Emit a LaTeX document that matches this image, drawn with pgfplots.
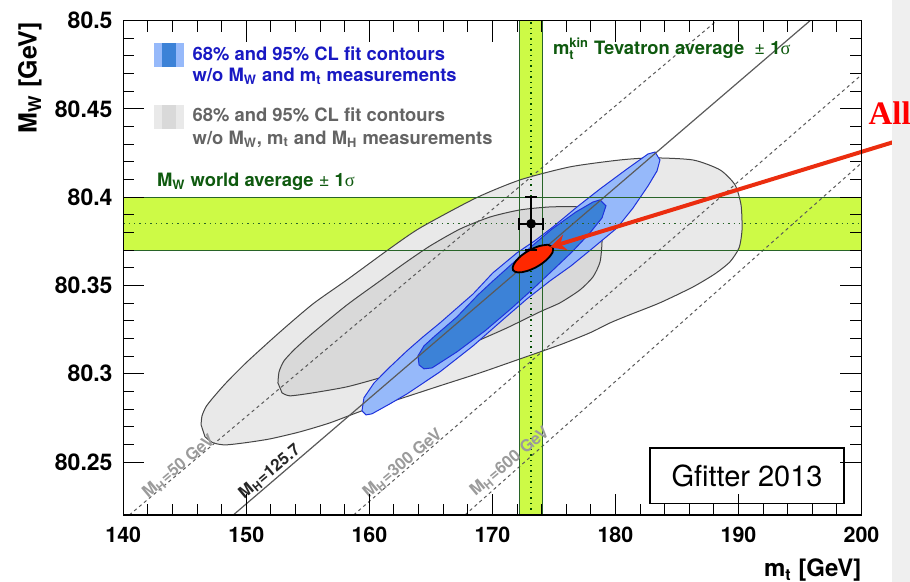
\documentclass[border=0pt]{standalone}
\usepackage{fontspec}
\setmainfont{TeX Gyre Heros}
\newfontfamily\serifff{Liberation Serif}
\usepackage{amsmath}
\usepackage{pgfplots}
\pgfplotsset{compat=1.18}
\usetikzlibrary{arrows.meta}
\definecolor{bandgreen}{RGB}{205,250,70}
\definecolor{bandline}{RGB}{40,100,40}
\definecolor{txtgreen}{RGB}{15,90,15}
\definecolor{txtblue}{RGB}{25,25,195}
\definecolor{txtgray}{RGB}{100,100,100}
\definecolor{lblue}{RGB}{150,185,250}
\definecolor{dblue}{RGB}{60,130,215}
\definecolor{bline}{RGB}{30,50,220}
\definecolor{gout}{RGB}{233,233,233}
\definecolor{gin}{RGB}{217,217,217}
\definecolor{gline}{RGB}{70,70,70}
\definecolor{mhline}{RGB}{90,90,90}
\definecolor{mhtext}{RGB}{155,155,155}
\definecolor{ellred}{RGB}{255,40,0}
\definecolor{arrred}{RGB}{235,45,15}
\definecolor{panel}{RGB}{239,239,239}
\definecolor{alltxt}{RGB}{255,0,0}
\begin{document}
\begin{tikzpicture}
\begin{axis}[
  scale only axis, width=369.1pt, height=247.15pt,
  xmin=140, xmax=200, ymin=80.22, ymax=80.5,
  axis on top, clip=false, scaled ticks=false,
  xtick={140,150,160,170,180,190,200},
  xticklabels={140,150,160,170,180,190,200},
  ytick={80.25,80.3,80.35,80.4,80.45,80.5},
  yticklabels={80.25,80.3,80.35,80.4,80.45,80.5},
  minor x tick num=4, minor y tick num=4,
  tick align=inside, tick pos=both, xticklabel pos=lower, yticklabel pos=left,
  major tick length=10.5pt, minor tick length=5.6pt,
  every tick/.style={black, line width=0.5pt},
  axis line style={line width=0.7pt},
  xticklabel style={font=\fontsize{10.7}{12}\selectfont\bfseries, inner sep=0pt, anchor=north, yshift=-6pt},
  yticklabel style={font=\fontsize{11.5}{13}\selectfont\bfseries, inner sep=0pt, anchor=east, xshift=-5.2pt},
  /pgf/number format/assume math mode=true,
]
% bands
\addplot[draw=none, fill=bandgreen] coordinates {(140,80.37) (200,80.37) (200,80.40) (140,80.40)} --cycle;
\addplot[draw=none, fill=bandgreen] coordinates {(172.2,80.22) (174.1,80.22) (174.1,80.5) (172.2,80.5)} --cycle;
% gray contours
\addplot[fill=gout, draw=gline, line width=0.5pt, smooth, tension=0.4] coordinates {
(146.32,80.2711) (146.40,80.2762) (146.72,80.2813) (147.29,80.2864) (148.35,80.2948) (150.05,80.3067) (152.74,80.3237) (155.42,80.3396) (158.18,80.3532) (161.52,80.3702) (164.12,80.3826) (168.67,80.3996) (172.24,80.4098) (176.31,80.4172) (180.37,80.4211) (183.06,80.4223) (186.31,80.4211) (188.50,80.4155) (189.72,80.4070) (190.21,80.3956) (190.29,80.3815) (190.05,80.3713) (189.31,80.3634) (188.09,80.3566) (186.31,80.3492) (183.62,80.3402) (180.94,80.3328) (179.56,80.3288) (177.93,80.3232) (175.50,80.3164) (172.24,80.3084) (168.99,80.3005) (165.74,80.2932) (162.49,80.2858) (159.40,80.2790) (156.80,80.2722) (154.36,80.2671) (151.92,80.2631) (149.89,80.2609) (148.27,80.2597) (147.29,80.2609) (146.64,80.2643)} --cycle;
\addplot[fill=gin, draw=gline, line width=0.5pt, smooth, tension=0.4] coordinates {
(152.57,80.2948) (152.66,80.3011) (153.06,80.3073) (153.96,80.3141) (155.42,80.3232) (158.18,80.3390) (160.87,80.3526) (162.90,80.3628) (164.93,80.3724) (167.37,80.3820) (169.81,80.3888) (172.24,80.3928) (174.68,80.3945) (177.12,80.3945) (178.34,80.3922) (178.83,80.3849) (178.91,80.3747) (178.75,80.3634) (178.18,80.3549) (177.12,80.3475) (175.50,80.3402) (173.87,80.3351) (171.19,80.3260) (168.43,80.3175) (165.74,80.3096) (163.06,80.3022) (160.87,80.2977) (158.18,80.2926) (155.42,80.2892) (153.55,80.2875) (152.90,80.2892)} --cycle;
% blue contours
\addplot[fill=lblue, draw=bline, line width=0.5pt] coordinates {
(159.40,80.2790) (159.73,80.2767) (160.21,80.2773) (161.68,80.2830) (163.06,80.2886) (165.74,80.3011) (168.43,80.3158) (171.03,80.3317) (172.81,80.3424) (174.68,80.3526) (176.39,80.3611) (178.18,80.3713) (180.13,80.3826) (181.43,80.3939) (182.65,80.4064) (183.38,80.4149) (183.62,80.4211) (183.22,80.4256) (182.65,80.4245) (180.94,80.4160) (178.75,80.4047) (176.88,80.3945) (174.93,80.3832) (173.44,80.3753) (172.00,80.3685) (170.03,80.3571) (168.43,80.3452) (165.74,80.3288) (164.36,80.3209) (163.06,80.3130) (161.68,80.3039) (160.38,80.2948) (159.56,80.2864)} --cycle;
\addplot[fill=dblue, draw=bline, line width=0.5pt] coordinates {
(163.95,80.3101) (164.04,80.3050) (164.44,80.3028) (165.09,80.3033) (167.12,80.3124) (169.40,80.3243) (171.59,80.3373) (173.30,80.3481) (174.93,80.3588) (176.47,80.3690) (177.93,80.3798) (178.91,80.3883) (179.23,80.3951) (178.75,80.3985) (178.18,80.3973) (176.80,80.3917) (174.85,80.3820) (173.22,80.3724) (171.59,80.3622) (170.05,80.3526) (168.83,80.3447) (167.12,80.3322) (165.34,80.3215) (164.44,80.3158)} --cycle;
% MH lines
\addplot[mhline, line width=0.5pt, dash pattern=on 1.6pt off 1.6pt] coordinates {(140.49,80.22) (188.23,80.5)};
\addplot[mhline, line width=0.6pt] coordinates {(148.94,80.22) (195.82,80.5)};
\addplot[mhline, line width=0.5pt, dash pattern=on 1.6pt off 1.6pt] coordinates {(158.72,80.22) (200,80.4693)};
\addplot[mhline, line width=0.5pt, dash pattern=on 1.6pt off 1.6pt] coordinates {(167.77,80.22) (200,80.4194)};
% band lines
\addplot[bandline, line width=0.5pt] coordinates {(140,80.37) (200,80.37)};
\addplot[bandline, line width=0.5pt] coordinates {(140,80.40) (200,80.40)};
\addplot[bandline, line width=0.7pt, dotted] coordinates {(140,80.385) (200,80.385)};
\addplot[bandline, line width=0.5pt] coordinates {(172.2,80.22) (172.2,80.5)};
\addplot[bandline, line width=0.5pt] coordinates {(174.1,80.22) (174.1,80.5)};
\addplot[black!70!green, line width=0.7pt, dotted] coordinates {(173.15,80.22) (173.15,80.5)};
% line labels
\node[rotate=40, text=mhtext, font=\fontsize{8.3}{9}\selectfont\bfseries] at (axis cs:144.53,80.2473) {M$_\text{H}$=50 GeV};
\node[rotate=40, text=black!85, font=\fontsize{8.3}{9}\selectfont\bfseries] at (axis cs:151.92,80.2444) {M$_\text{H}$=125.7};
\node[rotate=40, text=mhtext, font=\fontsize{8.3}{9}\selectfont\bfseries] at (axis cs:162.73,80.2490) {M$_\text{H}$=300 GeV};
\node[rotate=40, text=mhtext, font=\fontsize{8.3}{9}\selectfont\bfseries] at (axis cs:171.43,80.2501) {M$_\text{H}$=600 GeV};
% measurement point with error bars and caps
\addplot[black, line width=1pt] coordinates {(172.2,80.385) (174.1,80.385)};
\addplot[black, line width=1pt] coordinates {(173.15,80.37) (173.15,80.40)};
\addplot[black, only marks, mark=-, mark size=3pt, mark options={line width=1pt}] coordinates {(173.15,80.40) (173.15,80.37)};
\addplot[black, only marks, mark=|, mark size=3pt, mark options={line width=1pt}] coordinates {(172.2,80.385) (174.1,80.385)};
\addplot[black, only marks, mark=*, mark size=2.2pt] coordinates {(173.15,80.385)};
% fit ellipse
\addplot[fill=ellred, draw=black, line width=0.9pt, smooth, tension=0.6] coordinates {
(174.92,80.3717) (174.89,80.3687) (174.43,80.3647) (173.67,80.3608) (172.81,80.3582) (172.08,80.3574) (171.68,80.3587) (171.72,80.3618) (172.17,80.3658) (172.94,80.3697) (173.80,80.3723) (174.52,80.3731)} --cycle;
% arrow
\draw[arrred, line width=2pt, -{Stealth[length=8pt, width=8pt]}] (axis cs:203.94,80.4341) -- (axis cs:174.68,80.3717);
% legend
\fill[lblue] (axis cs:142.50,80.4736) rectangle (axis cs:144.93,80.4875);
\fill[dblue] (axis cs:143.17,80.4736) rectangle (axis cs:144.28,80.4875);
\fill[gout] (axis cs:142.50,80.4387) rectangle (axis cs:144.93,80.4523);
\fill[gin] (axis cs:143.17,80.4387) rectangle (axis cs:144.28,80.4523);
\node[anchor=base west, inner sep=0pt, text=txtblue, font=\fontsize{9.2}{11}\selectfont\bfseries] at (axis cs:145.61,80.4777) {68\% and 95\% CL fit contours};
\node[anchor=base west, inner sep=0pt, text=txtblue, font=\fontsize{9.2}{11}\selectfont\bfseries] at (axis cs:145.61,80.4655) {w/o M$_\text{W}$ and m$_\text{t}$ measurements};
\node[anchor=base west, inner sep=0pt, text=txtgray, font=\fontsize{9.2}{11}\selectfont\bfseries] at (axis cs:145.61,80.4428) {68\% and 95\% CL fit contours};
\node[anchor=base west, inner sep=0pt, text=txtgray, font=\fontsize{9.2}{11}\selectfont\bfseries] at (axis cs:145.61,80.4300) {w/o M$_\text{W}$, m$_\text{t}$ and M$_\text{H}$ measurements};
\node[anchor=base west, inner sep=0pt, text=txtgreen, font=\fontsize{9.2}{11}\selectfont\bfseries] at (axis cs:142.71,80.4060) {M$_\text{W}$ world average {\mdseries ±} 1{\serifff\mdseries σ}};
\node[anchor=base west, inner sep=0pt, text=txtgreen, font=\fontsize{9.2}{11}\selectfont\bfseries] at (axis cs:174.90,80.4806) {m$^\text{kin}_\text{t}$ Tevatron average \ {\mdseries ±} 1{\serifff\mdseries σ}};
% Gfitter box
\draw[black, line width=0.6pt, fill=white] (axis cs:182.81,80.2267) rectangle (axis cs:198.58,80.2579);
\node[font=\fontsize{14.5}{16}\selectfont] at (axis cs:190.70,80.2423) {Gfitter 2013};
\end{axis}
% axis titles
\node[rotate=90, anchor=base east, inner sep=0pt, font=\fontsize{12.5}{14}\selectfont\bfseries] at (-43.3pt,246.6pt) {M$_\text{W}$ [GeV]};
\node[anchor=base east, inner sep=0pt, font=\fontsize{12}{14}\selectfont\bfseries] at (369.2pt,-31pt) {m$_\text{t}$ [GeV]};
% slide panel and clipped annotation
\fill[panel] (384.2pt,-34pt) rectangle (394pt,258pt);
\node[anchor=base west, inner sep=0pt, text=alltxt, font=\serifff\bfseries\fontsize{16.4}{18}\selectfont] at (372.5pt,195pt) {All};
\pgfresetboundingbox
\path[use as bounding box] (-61.65pt,-33.5pt) rectangle (393.35pt,257.5pt);
\end{tikzpicture}
\end{document}
